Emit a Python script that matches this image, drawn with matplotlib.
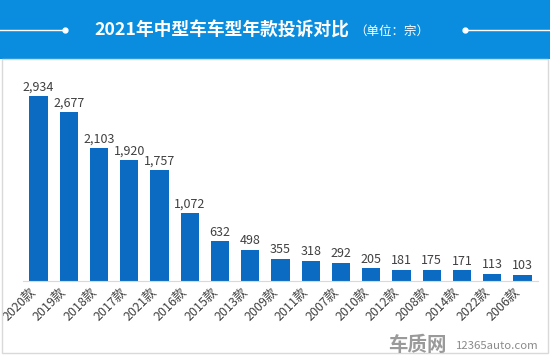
import matplotlib
matplotlib.use("Agg")
import matplotlib.pyplot as plt
from matplotlib.lines import Line2D
from matplotlib.patches import Rectangle

plt.rcParams['font.family'] = ['Noto Sans CJK SC', 'DejaVu Sans']

# data
years = ["2020款", "2019款", "2018款", "2017款", "2021款", "2016款", "2015款",
         "2013款", "2009款", "2011款", "2007款", "2010款", "2012款", "2008款",
         "2014款", "2022款", "2006款"]
complaints = [2934, 2677, 2103, 1920, 1757, 1072, 632, 498, 355, 318, 292,
              205, 181, 175, 171, 113, 103]

title = "2021年中型车车型年款投诉对比"
unit = "（单位：宗）"

W, H = 550, 356
fig = plt.figure(figsize=(W / 100, H / 100), dpi=100)
fig.patch.set_facecolor("white")

# header band
fig.add_artist(Rectangle((0, 1 - 59 / H), 1, 59 / H, transform=fig.transFigure,
                         facecolor="#0A8DDE", edgecolor="none"))
fig.text(349 / W, 1 - 31 / H, title, color="white", fontsize=12.8,
         fontweight="bold", ha="right", va="center")
fig.text(354 / W, 1 - 31 / H, unit, color="white", fontsize=9,
         ha="left", va="center")
# decorative lines with dots
yl = 1 - 30 / H
fig.add_artist(Line2D([0, 65 / W], [yl, yl], transform=fig.transFigure,
                      color="white", lw=1))
fig.add_artist(Line2D([65 / W], [yl], transform=fig.transFigure, color="white",
                      marker="o", markersize=3.5, lw=0))
fig.add_artist(Line2D([465 / W, 1], [yl, yl], transform=fig.transFigure,
                      color="white", lw=1))
fig.add_artist(Line2D([465 / W], [yl], transform=fig.transFigure, color="white",
                      marker="o", markersize=3.5, lw=0))

# light border around body
fig.add_artist(Rectangle((1.5 / W, 3 / H), 546.5 / W, (H - 59 - 3) / H,
                         transform=fig.transFigure, facecolor="none",
                         edgecolor="#D9D9D9", lw=1))

# axes
left, right = 23.4, 537.6
bottom, top = 281, 76
ax = fig.add_axes([left / W, 1 - bottom / H, (right - left) / W, (bottom - top) / H])
x = list(range(len(years)))
bars = ax.bar(x, complaints, width=0.6, color="#0B6BC2")
ax.set_xlim(-0.5, len(years) - 0.5)
ax.set_ylim(0, 3250)

for xi, v in zip(x, complaints):
    ax.text(xi, v + 40, f"{v:,}", ha="center", va="bottom", fontsize=9,
            color="#404040")

ax.set_xticks(x)
ax.set_xticklabels(years, rotation=45, ha="right", va="top", fontsize=9,
                   color="#404040")
ax.tick_params(axis="x", length=0, pad=3)
ax.set_yticks([])
for s in ["top", "left", "right"]:
    ax.spines[s].set_visible(False)
ax.spines["bottom"].set_color("#D9D9D9")
ax.set_facecolor("none")

# watermark
fig.text(388 / W, 1 - 345 / H, "车质网", fontsize=14, fontweight="bold",
         color="#9A9A9A", ha="left", va="center")
fig.text(456 / W, 1 - 346 / H, "12365auto.com", fontsize=8.2, color="#8A8A8A",
         ha="left", va="center")

fig.savefig("out.png", dpi=100)
